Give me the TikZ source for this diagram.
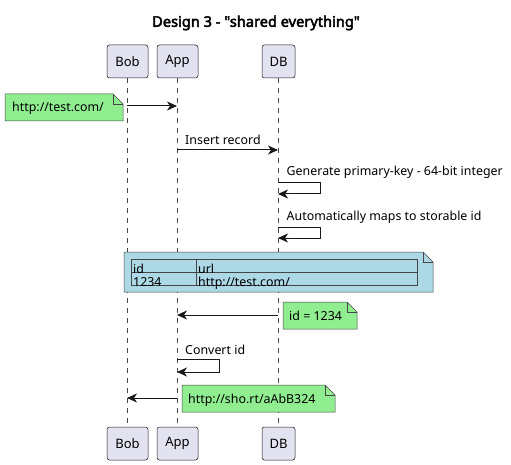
\documentclass[tikz,border=0pt]{standalone}
\usepackage{fontspec}
\setmainfont{Noto Sans}[Ligatures=TeXOff]
\newfontfamily\titlefont{Noto Sans}[Ligatures=TeXOff, FakeBold=3]
\usetikzlibrary{arrows.meta}
\definecolor{partfill}{HTML}{E2E2F0}
\definecolor{edgec}{HTML}{181818}
\definecolor{notegreen}{HTML}{90EE90}
\definecolor{noteblue}{HTML}{ADD8E6}
\tikzset{
  part/.style={draw=edgec, fill=partfill, line width=0.5pt, rounded corners=2.5pt, minimum height=33pt, inner sep=0pt, font=\fontsize{13}{15}\selectfont},
  lifeline/.style={draw=edgec!80, line width=0.5pt, dash pattern=on 5pt off 5pt},
  msg/.style={draw=edgec, line width=1pt, -{Stealth[length=10pt,width=9pt,inset=3pt]}},
  lbl/.style={font=\fontsize{12.4}{15}\selectfont, inner sep=0pt, anchor=base west},
  notebox/.style={draw=edgec!80, line width=0.5pt},
}
\newcommand{\mynote}[6]{% x1,y1,x2,y2,colour,name
  \fill[#5] (#1,#2) -- (#3-10,#2) -- (#3,#2+10) -- (#3,#4) -- (#1,#4) -- cycle;
  \draw[notebox] (#1,#2) -- (#3-10,#2) -- (#3,#2+10) -- (#3,#4) -- (#1,#4) -- cycle;
  \draw[notebox] (#3-10,#2) -- (#3-10,#2+10) -- (#3,#2+10);
  \coordinate (#6) at (#1,#2);
}
\begin{document}
\begin{tikzpicture}[x=1pt,y=-1pt]
\useasboundingbox (0,0) rectangle (511,465);
\fill[white] (0,0) rectangle (511,465);

\node[font=\fontsize{14.6}{16}\titlefont] (title) at (256,23) {Design 3 - "shared everything"};

% participants
\node[part, minimum width=41pt] (bobT) at (127.5,61.5) {Bob};
\node[part, minimum width=41pt] (appT) at (177.5,61.5) {App};
\node[part, minimum width=33pt] (dbT) at (278.5,61.5) {DB};
\node[part, minimum width=41pt] (bobB) at (127.5,443.5) {Bob};
\node[part, minimum width=41pt] (appB) at (177.5,443.5) {App};
\node[part, minimum width=33pt] (dbB) at (278.5,443.5) {DB};

\draw[lifeline] (bobT.south) -- (bobB.north);
\draw[lifeline] (appT.south) -- (appB.north);
\draw[lifeline] (dbT.south) -- (dbB.north);

% note 1
\mynote{5}{94}{123}{121}{notegreen}{n1}
\node[lbl] (n1t) at (12,112) {http://test.com/};
\coordinate (b1) at (127,106); \coordinate (a1) at (177,106);
\draw[msg] (b1) -- (a1);

% insert record
\coordinate (a2) at (177,150); \coordinate (d2) at (278,150);
\draw[msg] (a2) -- (d2);
\node[lbl] (m2) at (185,145) {Insert record};

% self 1
\coordinate (d3) at (278,183); \coordinate (d3e) at (278,194);
\draw[msg] (d3) -- (320,183) -- (320,194) -- (d3e);
\node[lbl] (m3) at (286.5,176) {Generate primary-key - 64-bit integer};

% self 2
\coordinate (d4) at (278,227); \coordinate (d4e) at (278,238);
\draw[msg] (d4) -- (320,227) -- (320,238) -- (d4e);
\node[lbl] (m4) at (286.5,220) {Automatically maps to storable id};

% table note
\mynote{124}{252}{433}{292}{noteblue}{n2}
\draw[notebox] (131,259) rectangle (417,285);
\draw[notebox] (131,272) -- (417,272);
\draw[notebox] (196,259) -- (196,285);
\node[lbl] (t1) at (133,273) {id};
\node[lbl] (t2) at (198,273) {url};
\node[lbl] (t3) at (133,286) {1234};
\node[lbl] (t4) at (198,286) {http://test.com/};

% return
\coordinate (d5) at (278,315); \coordinate (a5) at (177,315);
\draw[msg] (d5) -- (a5);
\mynote{283}{302}{357}{329}{notegreen}{n3}
\node[lbl] (n3t) at (289,320) {id = 1234};

% convert
\coordinate (a6) at (177,359); \coordinate (a6e) at (177,372);
\draw[msg] (a6) -- (219,359) -- (219,372) -- (a6e);
\node[lbl] (m6) at (185,354) {Convert id};

% final
\coordinate (a7) at (177,398); \coordinate (b7) at (127,398);
\draw[msg] (a7) -- (b7);
\mynote{182}{385}{335}{412}{notegreen}{n4}
\node[lbl] (n4t) at (188,403) {http://sho.rt/aAbB324};
\end{tikzpicture}
\end{document}
